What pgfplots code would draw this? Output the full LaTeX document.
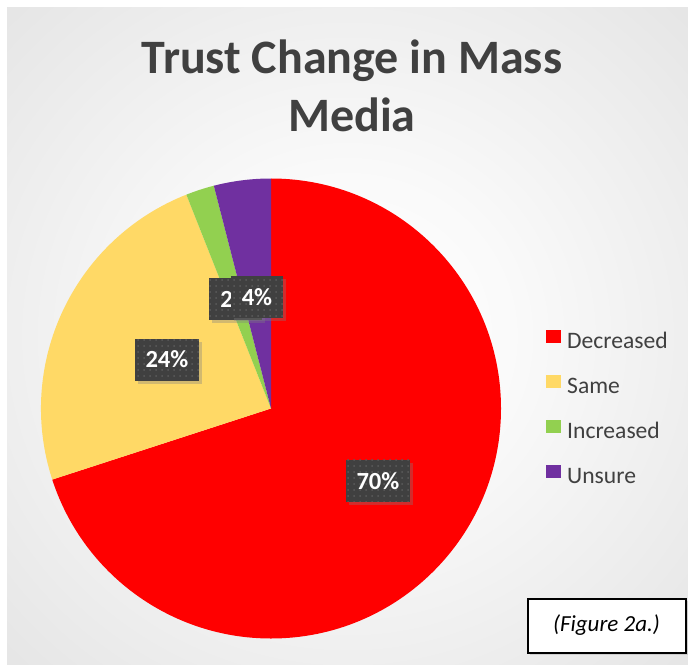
\documentclass[border=0pt]{standalone}
\usepackage{pgfplots}
\pgfplotsset{compat=1.18}
\usepackage{pgfplotstable}
\usepackage{fontspec}
\setmainfont{Carlito}
\usetikzlibrary{patterns,shadows}

\definecolor{cDec}{HTML}{FF0000}
\definecolor{cSame}{HTML}{FFD966}
\definecolor{cInc}{HTML}{92D050}
\definecolor{cUns}{HTML}{7030A0}
\definecolor{txt}{HTML}{404040}
\definecolor{boxgray}{HTML}{404040}
\definecolor{dotgray}{HTML}{5C5C5C}

\pgfdeclareradialshading{bgshade}{\pgfpoint{0bp}{0bp}}{%
  color(0bp)=(white); color(12bp)=(white!98!black);
  color(50bp)=(white!85!black); color(72bp)=(white!77!black)}

\tikzset{labelbox/.style={drop shadow={shadow xshift=1.5pt, shadow yshift=-1.5pt, opacity=0.35},
    preaction={fill=boxgray}, pattern=dots, pattern color=dotgray,
    text=white, font=\bfseries\fontsize{12.3}{14}\selectfont,
    inner xsep=5.5pt, minimum height=21pt}}

% share of answers, in percent
\pgfplotstableread{
label      value
Decreased  70
Same       24
Increased  2
Unsure     4
}\piedata

\begin{document}
\begin{tikzpicture}
\fill[white] (0,0) rectangle (344pt,332pt);
\shade[shading=bgshade] (3.5pt,0) rectangle (344pt,328pt);

\pgfplotstablegetelem{0}{value}\of\piedata \pgfmathtruncatemacro\vA{\pgfplotsretval}
\pgfplotstablegetelem{1}{value}\of\piedata \pgfmathtruncatemacro\vB{\pgfplotsretval}
\pgfplotstablegetelem{2}{value}\of\piedata \pgfmathtruncatemacro\vC{\pgfplotsretval}
\pgfplotstablegetelem{3}{value}\of\piedata \pgfmathtruncatemacro\vD{\pgfplotsretval}
\pgfmathsetmacro\aA{90}
\pgfmathsetmacro\aB{\aA-3.6*\vA}
\pgfmathsetmacro\aC{\aB-3.6*\vB}
\pgfmathsetmacro\aD{\aC-3.6*\vC}
\pgfmathsetmacro\aE{\aD-3.6*\vD}
\pgfmathsetmacro\mA{(\aA+\aB)/2+2}
\pgfmathsetmacro\mB{(\aB+\aC)/2}
\pgfmathsetmacro\mC{(\aC+\aD)/2}
\pgfmathsetmacro\mD{(\aD+\aE)/2}

\begin{axis}[
    scale only axis, width=344pt, height=332pt,
    xmin=0, xmax=688, ymin=0, ymax=664,
    hide axis, clip=false,
    title={Trust Change in Mass\\Media},
    title style={at={(0.5116,0.9232)}, anchor=north, align=center,
                 font=\bfseries\fontsize{24}{29}\selectfont, text=txt, inner sep=0pt},
    legend image code/.code={\fill[#1] (0pt,0pt) rectangle (7pt,6pt);},
    legend cell align=left,
    legend style={draw=none, fill=none, inner sep=0pt, anchor=north west,
                  at={(0.7936,0.5045)},
                  font=\fontsize{11.8}{14}\selectfont\color{txt},
                  row sep=9.5pt, column sep=2pt,
                  nodes={inner sep=1pt, text height=8.5pt, text depth=2.5pt}},
  ]
  \addlegendimage{cDec}\addlegendentry{Decreased}
  \addlegendimage{cSame}\addlegendentry{Same}
  \addlegendimage{cInc}\addlegendentry{Increased}
  \addlegendimage{cUns}\addlegendentry{Unsure}

  \fill[cDec]  (axis cs:271,255.5) -- ++(\aA:115pt) arc[start angle=\aA, end angle=\aB, radius=115pt] -- cycle;
  \fill[cSame] (axis cs:271,255.5) -- ++(\aB:115pt) arc[start angle=\aB, end angle=\aC, radius=115pt] -- cycle;
  \fill[cInc]  (axis cs:271,255.5) -- ++(\aC:115pt) arc[start angle=\aC, end angle=\aD, radius=115pt] -- cycle;
  \fill[cUns]  (axis cs:271,255.5) -- ++(\aD:115pt) arc[start angle=\aD, end angle=\aE, radius=115pt] -- cycle;

  \node[labelbox] at ([shift={(\mA:64.5pt)}]axis cs:271,255.5) {\vA\%};
  \node[labelbox] at ([shift={(\mB:57.5pt)}]axis cs:271,255.5) {\vB\%};
  \node[labelbox] at ([shift={(\mC:57.5pt)}]axis cs:271,255.5) {\vC\%};
  \node[labelbox] at ([shift={(\mD:56pt)}]axis cs:271,255.5) {\vD\%};

  \node[draw=black, line width=1pt, fill=white, minimum width=79pt, minimum height=27pt,
        drop shadow={shadow xshift=1pt, shadow yshift=-1pt, opacity=0.25},
        font=\itshape\fontsize{11.5}{14}\selectfont]
    at (axis cs:606.5,38.5) {(Figure 2a.)};
\end{axis}
\end{tikzpicture}
\end{document}
